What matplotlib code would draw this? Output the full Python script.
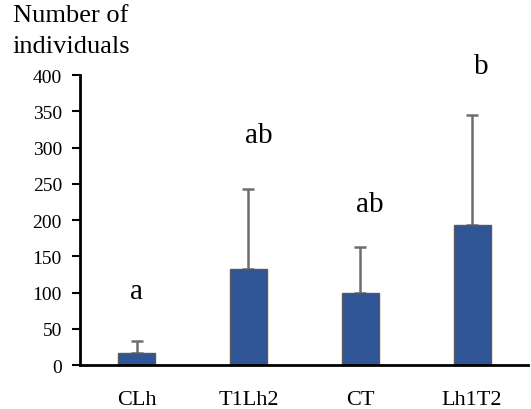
import matplotlib
matplotlib.use("Agg")
import matplotlib.pyplot as plt

# Data
groups = ["CLh", "T1Lh2", "CT", "Lh1T2"]
means = [16.5, 132.5, 100, 193]
errors = [16, 110, 63, 152]
letters = ["a", "ab", "ab", "b"]
letter_y = [102, 317, 222, 412]
letter_dx = [0.0, 0.09, 0.09, 0.08]

plt.rcParams['font.family'] = ['Liberation Serif', 'DejaVu Serif']

fig = plt.figure(figsize=(5.31, 4.10), dpi=100)
ax = fig.add_axes([0.1507, 0.1073, 0.8437, 0.7073])

x = range(len(groups))
ax.bar(x, means, width=0.33, color='#2F5597', edgecolor='#595959', linewidth=1.0, zorder=2)
ax.errorbar(x, means, yerr=[[0] * len(errors), errors], fmt='none',
            ecolor='#6E6E6E', elinewidth=1.8, capsize=4, capthick=1.8, zorder=1)

for i, (lab, ly, dx) in enumerate(zip(letters, letter_y, letter_dx)):
    ax.text(i + dx, ly, lab, ha='center', va='center', fontsize=21, clip_on=False)

ax.set_xlim(-0.505, 3.5)
ax.set_ylim(0, 400)
ax.set_yticks(range(0, 401, 50))
ax.set_xticks(list(x))
ax.set_xticklabels(groups, fontsize=16)
ax.tick_params(axis='y', labelsize=14, length=6, width=1.5, direction='out', pad=7)
ax.tick_params(axis='x', length=0, pad=18)
for side in ['top', 'right']:
    ax.spines[side].set_visible(False)
for side in ['left', 'bottom']:
    ax.spines[side].set_linewidth(2)

fig.text(71 / 531, 1 - 5 / 410, "Number of\nindividuals", ha='center', va='top',
         fontsize=19, linespacing=1.55)

fig.savefig("out.png", dpi=100)
